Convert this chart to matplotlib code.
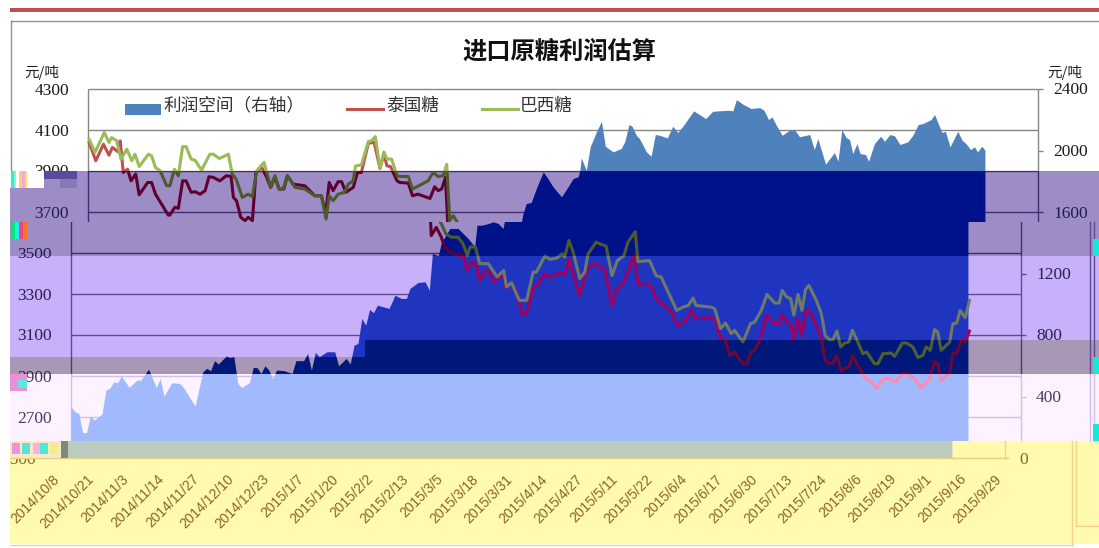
import matplotlib
matplotlib.use("Agg")
import matplotlib.pyplot as plt
from matplotlib.patches import Rectangle
from matplotlib.lines import Line2D

# ---------- data ----------
date_labels = ["2014/10/8","2014/10/21","2014/11/3","2014/11/14","2014/11/27","2014/12/10","2014/12/23",
               "2015/1/7","2015/1/20","2015/2/2","2015/2/13","2015/3/5","2015/3/18","2015/3/31","2015/4/14",
               "2015/4/27","2015/5/11","2015/5/22","2015/6/4","2015/6/17","2015/6/30","2015/7/13","2015/7/24",
               "2015/8/6","2015/8/19","2015/9/1","2015/9/16","2015/9/29"]
left_ticks = [2500,2700,2900,3100,3300,3500,3700,3900,4100,4300]
left_tick_labels = ["2500","2700","2900","3100","3300","3500","3700","3900","4100","4300"]
right_ticks = [0,400,800,1200,1600,2000,2400]
days_per_label = 9

profit_day = [0,1,2,3,4,5,6,8,9,10,11,12,13,15,17,18,20,22,23,24,26,28,29,31,32,34,35,36,37,38,40,41,42,43,44,46,47,48,49,50,
              51,52,53,55,57,58,60,61,62,63,64,66,68,69,71,72,73,74,75,76,77,78,79,82,83,83.5,85.2,86.5,87.4,89.5,91.3,92.4,
              93.2,94.7,95.5,97.7,99.8,102.4,104.1,104.7,105.9,107.6,108.9,110.2,111.4,112.2,113,114.3,115.6,117.4,118.6,119.9,
              122.1,123.8,125.1,126.4,126.8,127.2,128.5,129.5,131.1,132.4,133.4,135.4,137.5,138.4,139.5,140.3,141.4,142.2,144,
              145.2,146.3,147.4,149.4,150.8,152.1,153.4,156.2,157.3,159.3,161.1,165,166.3,167.2,168.9,171,173.2,174.3,175.5,
              176.4,177.5,179,180.9,182.2,183.5,186.1,187.3,188.2,190.2,192.5,193.4,194.4,195.5,196.4,197.2,198.3,199.1,200.5,
              201.3,202.8,204.4,205.4,206.8,208,209.4,211.4,212.7,214.1,215.3,217.4,218.3,220.2,221.1,222.3,224.3,225.4,226.4,
              227.6,228.6,229.4,230.5,231.3]
profit_val = [334,301,290,165,165,273,247,286,442,453,496,490,533,459,507,507,578,459,516,403,490,485,459,377,338,561,583,568,633,611,
              663,654,659,485,459,490,589,587,550,600,572,516,572,568,550,633,633,680,572,687,659,691,691,600,648,611,734,745,908,864,
              966,945,994,973,1027,1059,1038,1038,1103,1142,1146,1092,1330,1315,1400,1493,1493,1428,1374,1514,1514,1525,1536,1525,1493,
              1590,1655,1662,1753,1861,1818,1764,1699,1764,1818,1829,1865,1952,1872,2024,2121,2190,2028,1991,2013,2056,2169,2158,2099,2078,
              1991,1963,2104,2099,2082,2158,2117,2158,2258,2240,2208,2255,2262,2258,2331,2301,2273,2279,2262,2201,2219,2164,2099,2132,2136,
              2089,2104,2006,2078,1911,1987,1930,2136,2084,2071,1980,2045,1980,1974,1930,2045,2093,2060,2104,2095,2039,2056,2099,2169,2175,
              2201,2234,2117,2125,2024,2125,2067,2045,2006,2024,1991,2028,2002]

thai_day = [0.3,2,4,5.4,6.3,7.8,8.3,9.1,10.2,11.1,12.3,13.2,15.4,16.4,17.4,20.7,21.1,22.4,23.3,24.4,25.3,26.6,27.6,28.9,30.2,31.2,32.3,34,
            35.7,36.9,37.5,38.3,39.4,40.5,41.3,42.4,43.3,44.8,46.1,47.1,48.2,49.3,50.5,51.4,52.9,55.9,58.5,60.2,61.3,62.2,63.2,64.5,65.4,
            66.5,68.4,69.5,70.5,72.3,73.8,75.3,76.3,77.1,78,79.7,80.4,82.6,83.7,85.1,88.2,89.4,90.3,91.2,92.2,92.9,94.2,95.5,96.4,98.5,
            101.1,102.2,103.2,104.3,105.4,106.7,107.5,109.2,111.4,112,113.5,114.8,116.3,117.4,119.3,120.4,122.1,123.7,126,127.3,128.4,131.1,
            133.3,135.2,136.3,137.6,139.5,140.6,142.6,145.2,146.2,149.4,150.9,153.1,154.8,156.5,158.2,160.1,161.2,164.7,166.2,167.5,168.6,
            169.9,171.1,173.3,174.3,175.4,176.3,177.6,179.5,181.5,182.6,183.4,184.6,185.6,186.4,187.5,188.5,189.4,190.3,192.2,193.5,194.5,
            195.6,196.5,197.5,198.6,199.5,200.6,201.6,202.9,204.6,205.9,207.8,209.4,211.5,212.6,214.4,215.4,217.1,219.2,221.4,222.7,223.5,
            224.4,226.6,227.4,228.4,229.6,230.6,231.7]
thai_val = [4039,3950,4031,3977,4015,3993,4047,3893,3909,3852,3885,3784,3844,3844,3787,3685,3685,3723,3718,3852,3852,3796,3799,3787,3804,3872,
            3869,3852,3877,3873,3771,3755,3674,3658,3674,3658,3893,3917,3869,3820,3869,3812,3812,3877,3836,3828,3779,3779,3690,3844,3804,3848,
            3848,3796,3820,3893,3893,4036,4039,3912,3982,3925,3922,3852,3844,3841,3779,3787,3766,3823,3804,3812,3869,3585,3625,3577,3528,3495,
            3487,3414,3455,3455,3366,3414,3414,3358,3406,3333,3350,3317,3200,3200,3333,3346,3398,3382,3403,3393,3471,3293,3431,3450,3431,3422,
            3244,3317,3358,3491,3350,3345,3277,3241,3212,3144,3163,3220,3179,3184,3175,3082,3082,3001,3017,2960,2960,3017,3025,3074,3196,3155,
            3155,3199,3163,3155,3077,3179,3098,3212,3220,3147,3082,2977,2960,2964,3001,2925,2936,2944,3001,2952,2896,2879,2839,2883,2888,2871,
            2912,2912,2896,2844,2883,2969,2961,2879,2912,3009,3009,3077,3066,3119]

brazil_day = [0.3,1.8,4.2,5.4,6.1,7.4,8.5,10,11.3,12.1,13.2,15.6,16.4,17.4,18.6,20.3,21.1,22.3,23.3,24.4,25.3,26.6,27.6,29.3,31.4,32.3,33.9,
              36.2,37.2,38.2,39.8,41.3,42.4,43.5,45.4,47.1,48.2,49.3,50.3,51.4,53.4,55.9,58.5,60.2,61.4,62.2,63.2,64.5,66.2,67.1,68.4,69,70.5,
              72.3,73.1,74.1,75.3,76.3,77.1,78.3,79.7,80.4,82.6,83.7,87.7,89,90.3,91.6,92.5,93.3,94.2,95.5,96.7,98.1,99.8,101.1,102.2,102.9,
              104.3,105.4,107.6,109.9,111.6,112.3,113.6,115.6,117.5,119.2,120,122.2,123.5,125.2,126.7,127.3,128.4,129.5,131.2,132.5,133.3,135.4,
              138,139.5,140.9,142.6,143.6,145.5,146.2,149.2,150.9,152.2,156.2,157.8,159.2,160.4,161.2,165.1,166,167.5,168.8,170.3,171.1,173.3,
              175.2,176.3,178,179.5,181.5,182.6,183.4,184.6,185.6,186.4,187.5,188.5,189.4,190.3,192.2,193.5,194.5,195.6,196.5,197.5,198.5,199.5,
              200.6,201.5,202.9,204.2,205.2,207.2,208.1,209.4,211.5,212.4,214.4,215.4,217.1,218.4,219.7,220.5,221.6,222.7,223.5,224.4,226.6,
              227.4,228.4,229.3,230.6,231.7]
brazil_val = [4055,3990,4088,4039,4063,4047,3958,4006,3950,3982,3922,3982,3974,3917,3901,3828,3828,3909,3877,4019,4019,3958,3953,3904,3982,3982,
              3961,3982,3885,3860,3771,3787,3775,3901,3942,3820,3877,3812,3812,3877,3820,3812,3779,3779,3666,3779,3755,3787,3796,3836,3852,3925,
              3929,4044,4047,4068,3912,3993,3958,3958,3877,3873,3873,3812,3852,3893,3873,3877,3933,3658,3682,3642,3593,3577,3577,3545,3488,3529,
              3529,3448,3448,3383,3415,3334,3355,3269,3269,3407,3407,3485,3469,3475,3496,3480,3561,3504,3375,3407,3495,3552,3533,3390,3463,3487,
              3552,3604,3458,3463,3390,3382,3220,3236,3244,3280,3244,3236,3228,3131,3158,3106,3123,3066,3155,3163,3220,3298,3256,3256,3317,3285,
              3277,3196,3298,3220,3321,3342,3269,3204,3098,3077,3077,3119,3042,3061,3066,3123,3066,3009,3017,2960,2960,3009,3012,2996,3061,3061,
              3042,2990,3001,3042,3025,3126,3115,3025,3066,3155,3158,3220,3184,3269]

title = "进口原糖利润估算"
legend_names = ["利润空间（右轴）", "泰国糖", "巴西糖"]
unit = "元/吨"

# ---------- layout (pixels of the reference) ----------
W, H = 1099, 548
PLOT_L, PLOT_R = 88, 1038
Y_TOP, Y_BOT = 89, 458
PX_PER_DAY = 34.9 / days_per_label
LMIN, LMAX = left_ticks[0], left_ticks[-1]
RMIN, RMAX = right_ticks[0], right_ticks[-1]

def day(px):
    return (px - PLOT_L) / PX_PER_DAY
def lval(py):
    return LMIN + (Y_BOT - py) * (LMAX - LMIN) / (Y_BOT - Y_TOP)
def rval(py):
    return RMIN + (Y_BOT - py) * (RMAX - RMIN) / (Y_BOT - Y_TOP)

SERIF = "Liberation Serif"
CJK = "Noto Sans CJK SC"
fig = plt.figure(figsize=(W / 100, H / 100), dpi=100, facecolor="white")

WHITE = dict(bg="white", area="#4F81BD", red="#C0504D", green="#9BBB59", grid="#868686", text="#1a1a1a")
PURP = dict(bg="#9E8CC6", area="#001289", red="#5E0030", green="#4C5A2E", grid="#3E2E70", text="#231a55")
LILAC = dict(bg="#C9B0FB", area="#2035BF", red="#A00060", green="#6E7A68", grid="#5E4A90", text="#2a2050")
GREY = dict(bg="#A998B5", area="#00187A", red="#6A0838", green="#4F6030", grid="#4a3a70", text="#2a2050")
PINK = dict(bg="#FDF2FF", area="#A0BAFD", red="#FF88B0", green="#B0B8C0", grid="#D6BEEA", text="#4a3a60")
KHAKI = dict(bg="#FFFAAE", area="#BBCBBF", red="#C0504D", green="#9BBB59", grid="#E8D590", text="#8B6420")
YELL = dict(bg="#FFFAAE", area="#FFFAAE", red="#FFFAAE", green="#FFFAAE", grid="#E8D590", text="#8B6420")


def band(t, b, x0, x1, dx, s, xlabels=False):
    rect = [x0 / W, 1 - b / H, (x1 - x0) / W, (b - t) / H]
    base = fig.add_axes(rect, facecolor=s["bg"])
    ar = base.twinx()
    al = base.twinx()
    xlim = (day(x0 - dx), day(x1 - dx))
    for a in (base, ar, al):
        a.set_xlim(*xlim)
        a.set_xticks([])
        a.set_yticks([])
        for sp in a.spines.values():
            sp.set_visible(False)
    base.set_ylim(lval(b), lval(t))
    al.set_ylim(lval(b), lval(t))
    ar.set_ylim(rval(b), rval(t))

    right_end = day(PLOT_R)
    if not xlabels:
        base.hlines(left_ticks, 0, right_end, color=s["grid"], lw=1.0)
        base.vlines([0, right_end], LMIN, LMAX, color=s["grid"], lw=1.0)
        ar.hlines(right_ticks, right_end, day(PLOT_R + 5), color=s["grid"], lw=1.0)
        ar.fill_between(profit_day, profit_val, RMIN, color=s["area"], lw=0)
        al.plot(thai_day, thai_val, color=s["red"], lw=2.2, solid_joinstyle="round")
        al.plot(brazil_day, brazil_val, color=s["green"], lw=2.2, solid_joinstyle="round")

    for v, lab in zip(left_ticks, left_tick_labels):
        if lval(b + 10) <= v <= lval(t - 10):
            al.annotate(lab, xy=(day(69), v), xytext=(0, -1.5), textcoords="offset pixels",
                        ha="right", va="center", family=SERIF, fontsize=12.5, color=s["text"],
                        annotation_clip=False, clip_on=True)
    for v in right_ticks:
        if rval(b + 10) <= v <= rval(t - 10):
            ar.annotate(str(v), xy=(day(1053 if v else 1052), v), xytext=(0, -1.5), textcoords="offset pixels",
                        ha="left", va="center", family=SERIF, fontsize=12.5, color=s["text"],
                        annotation_clip=False, clip_on=True)
    if xlabels:
        for i, lab in enumerate(date_labels):
            base.annotate(lab, xy=(i * days_per_label, LMIN), xycoords="data", xytext=(-3, -14),
                          textcoords="offset pixels", rotation=45, ha="right", va="top",
                          rotation_mode="anchor", family="Liberation Sans", fontsize=10,
                          color="#8B6420", annotation_clip=False, clip_on=True)
    return base

band(22, 171, 12, W, 0, WHITE)
band(171, 222, 10, W, 0, PURP)
band(222, 256, 10, W, -17, PURP)
band(256, 340, 10, W, -17, LILAC)
band(340, 357, 10, 365, -17, LILAC)
band(340, 357, 365, W, -17, GREY)
band(357, 374, 10, W, -17, GREY)
band(374, 441, 10, W, -17, PINK)
band(441, 458, 10, W, -33, KHAKI)
band(458, 544, 10, W, -33, YELL, xlabels=True)


def box(x, y, w, h, c, z=5):
    fig.add_artist(Rectangle((x / W, 1 - (y + h) / H), w / W, h / H, transform=fig.transFigure,
                             facecolor=c, edgecolor="none", zorder=z))
def seg(x0, y0, x1, y1, c, lw=1.0):
    fig.add_artist(Line2D([x0 / W, x1 / W], [1 - y0 / H, 1 - y1 / H], transform=fig.transFigure,
                          color=c, lw=lw, zorder=5))

# page furniture
box(10, 7.5, W - 10, 4, "#C0504D")
seg(11, 21, W, 21, "#909090")
seg(11, 21, 11, 171, "#909090")
seg(10, 544.5, 1073, 544.5, "#F0D48C")
seg(10, 457.5, 1008, 457.5, "#E8D080")
seg(1072, 441, 1072, 544, "#F0D48C")
seg(1076, 441, 1076, 526, "#F0D48C")
seg(1076, 526, W, 526, "#F0D48C")
seg(1090, 222, 1090, 374, "#5E4A90")
seg(1094, 222, 1094, 374, "#5E4A90")
seg(1090, 374, 1090, 441, "#D6BEEA")
seg(1094, 374, 1094, 441, "#D6BEEA")

# corrupted blocks
box(10, 171, 34, 17, "white")
for i, c in enumerate(["#22F0E0", "#8CF5C8", "#FFFFFF", "#FFD070", "#F6A8D8", "#FFE060"]):
    box(11 + i * 2.7, 171, 2.7, 17, c, 5.5)
box(44, 171, 33, 8, "#5A4A9E")
box(60, 179, 17, 9, "#8878B8")
for i, c in enumerate(["#00E878", "#20F0E0", "#F04090", "#FF7020"]):
    box(11 + i * 4, 222, 4, 17, c)
box(10, 374, 17, 17, "#E890D8")
box(18, 380, 9, 8, "#60E8E0")
box(10, 441, 52, 17, "#F8E8C8")
for x, c in [(12, "#F090D8"), (22, "#60E0D0"), (33, "#F8B0E0"), (40, "#50E8D8"), (50, "#F0F080")]:
    box(x, 443, 8, 11, c)
box(61, 441, 7, 17, "#808878")
for y in (239, 357, 424):
    box(1093, y, 6, 17, "#18E8D8")

# title, units, legend
fig.text(559 / W, 1 - 52 / H, title, ha="center", va="center", family=CJK, fontsize=17.5,
         fontweight="bold", color="#111111", zorder=6)
fig.text(42 / W, 1 - 73 / H, unit, ha="center", va="center", family=CJK, fontsize=10.5, color="#222222", zorder=6)
fig.text(1065 / W, 1 - 73 / H, unit, ha="center", va="center", family=CJK, fontsize=10.5, color="#222222", zorder=6)
box(125, 104, 36, 11, WHITE["area"], 6)
seg(347, 109, 383, 109, WHITE["red"], 2.2)
seg(482, 109, 518, 109, WHITE["green"], 2.2)
for x, s in zip((164, 386, 520), legend_names):
    fig.text(x / W, 1 - 105.5 / H, s, ha="left", va="center", family=CJK, fontsize=12.7, color="#333333", zorder=6)

fig.savefig("out.png", dpi=100)
